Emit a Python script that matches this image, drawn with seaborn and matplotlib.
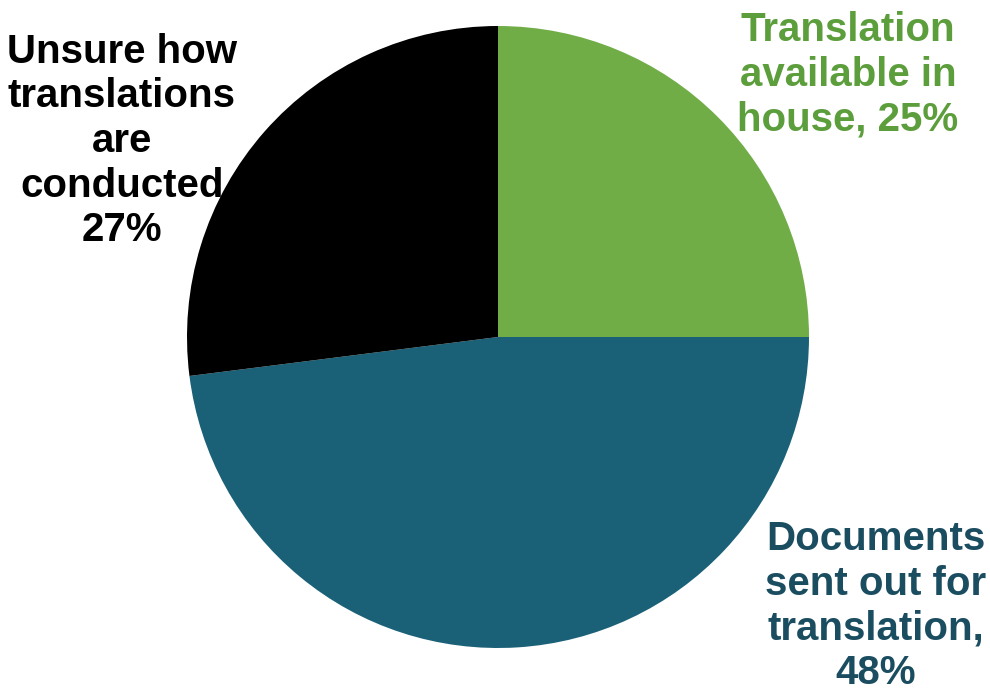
import matplotlib
matplotlib.use("Agg")
import matplotlib.pyplot as plt
import seaborn as sns

categories = ["Translation available in house", "Documents sent out for translation", "Unsure how translations are conducted"]
values = [25, 48, 27]
labels = ["Translation\navailable in\nhouse, 25%", "Documents\nsent out for\ntranslation,\n48%", "Unsure how\ntranslations\nare\nconducted\n27%"]
slice_colors = ["#70AD47", "#1A6178", "#000000"]
text_colors = ["#5C9E3C", "#1B4D61", "#000000"]

sns.set_theme(style="white")
plt.rcParams["font.family"] = ["Liberation Sans", "DejaVu Sans"]

W, H = 990, 691
fig = plt.figure(figsize=(W / 100, H / 100), dpi=100)
ax = fig.add_axes([0, 0, 1, 1])

cx, cy, r = 498, H - 337, 311
ax.pie(values, colors=slice_colors, startangle=90, counterclock=False,
       center=(cx, cy), radius=r, frame=True,
       wedgeprops=dict(linewidth=0))
ax.set_xlim(0, W)
ax.set_ylim(0, H)
ax.set_aspect("equal")
ax.axis("off")

positions = [(848, H - 75), (876, H - 606), (122, H - 141)]
for lab, col, (x, y) in zip(labels, text_colors, positions):
    ax.text(x, y, lab, ha="center", va="center", multialignment="center",
            fontsize=29, fontweight="bold", color=col, linespacing=1.22)

fig.savefig("out.png", dpi=100)
